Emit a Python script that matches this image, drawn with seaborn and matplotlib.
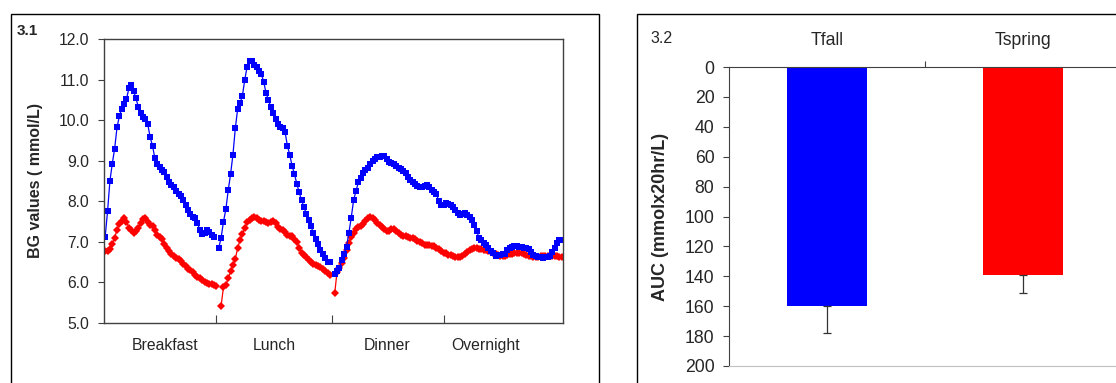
import matplotlib
matplotlib.use('Agg')
import matplotlib.pyplot as plt
from matplotlib.patches import Rectangle
from matplotlib.ticker import FormatStrFormatter
import numpy as np
import pandas as pd
import seaborn as sns

# ---------------------------------------------------------------------------
# Data
# ---------------------------------------------------------------------------

# 3.1 - mean BG profiles, one value per 5-min slot; three meal segments
tfall_breakfast = [7.13, 7.75, 8.5, 8.93, 9.3, 9.82, 10.1, 10.28, 10.4, 10.52,
                   10.78, 10.87, 10.72, 10.54, 10.33, 10.17, 10.08, 10.03, 9.9, 9.58,
                   9.37, 9.06, 8.92, 8.84, 8.78, 8.71, 8.61, 8.48, 8.41, 8.34,
                   8.26, 8.19, 8.12, 8.04, 7.92, 7.78, 7.69, 7.62, 7.58, 7.46,
                   7.3, 7.19, 7.23, 7.28, 7.24, 7.16, 7.13]
tfall_lunch = [6.85, 7.1, 7.5, 7.8, 8.27, 8.67, 9.15, 9.8, 10.28, 10.42,
               10.6, 11.0, 11.32, 11.47, 11.46, 11.36, 11.3, 11.22, 11.13, 10.95,
               10.66, 10.5, 10.32, 10.18, 10.02, 9.9, 9.82, 9.8, 9.72, 9.37,
               9.15, 8.87, 8.67, 8.43, 8.22, 8.03, 7.86, 7.69, 7.53, 7.38,
               7.22, 7.07, 6.95, 6.81, 6.7, 6.59, 6.51, 6.51]
tfall_dinner = [6.22, 6.27, 6.36, 6.55, 6.7, 6.88, 7.22, 7.6, 8.03, 8.25,
                8.47, 8.58, 8.7, 8.78, 8.82, 8.92, 9.0, 9.05, 9.08, 9.1,
                9.12, 9.11, 9.05, 8.98, 8.95, 8.93, 8.88, 8.83, 8.79, 8.75,
                8.7, 8.6, 8.52, 8.47, 8.42, 8.37, 8.36, 8.35, 8.38, 8.4,
                8.34, 8.29, 8.23, 8.18, 8.0, 7.9, 7.92, 7.95, 7.94, 7.92,
                7.85, 7.78, 7.72, 7.66, 7.68, 7.7, 7.65, 7.61, 7.53, 7.42,
                7.27, 7.1, 7.05, 6.98, 6.93, 6.84, 6.78, 6.72, 6.66, 6.67,
                6.68, 6.69, 6.71, 6.8, 6.84, 6.88, 6.9, 6.89, 6.88, 6.87,
                6.86, 6.86, 6.82, 6.75, 6.68, 6.64, 6.62, 6.62, 6.61, 6.62,
                6.62, 6.65, 6.75, 6.86, 6.97, 7.04, 7.05]

tspring_breakfast = [6.78, 6.77, 6.83, 6.95, 7.1, 7.3, 7.44, 7.52, 7.58, 7.5,
                     7.35, 7.28, 7.23, 7.26, 7.33, 7.46, 7.57, 7.6, 7.49, 7.41,
                     7.38, 7.29, 7.16, 7.13, 7.06, 6.95, 6.86, 6.77, 6.69, 6.64,
                     6.61, 6.58, 6.53, 6.46, 6.4, 6.34, 6.3, 6.25, 6.19, 6.13,
                     6.1, 6.06, 6.02, 5.98, 5.96, 5.95, 5.93, 5.91]
tspring_lunch = [5.43, 5.88, 5.93, 6.1, 6.27, 6.43, 6.58, 6.85, 7.04, 7.2,
                 7.34, 7.48, 7.55, 7.6, 7.62, 7.58, 7.54, 7.52, 7.51, 7.49,
                 7.47, 7.5, 7.52, 7.46, 7.36, 7.31, 7.29, 7.24, 7.18, 7.14,
                 7.14, 7.08, 7.0, 6.84, 6.73, 6.68, 6.62, 6.55, 6.5, 6.46,
                 6.43, 6.41, 6.37, 6.32, 6.29, 6.24, 6.18]
tspring_dinner = [5.73, 6.26, 6.36, 6.47, 6.6, 6.8, 6.98, 7.13, 7.23, 7.31,
                  7.36, 7.38, 7.44, 7.52, 7.58, 7.61, 7.6, 7.53, 7.47, 7.42,
                  7.36, 7.31, 7.27, 7.27, 7.31, 7.32, 7.27, 7.22, 7.17, 7.14,
                  7.14, 7.13, 7.1, 7.09, 7.06, 7.01, 6.99, 6.96, 6.93, 6.92,
                  6.92, 6.91, 6.89, 6.86, 6.82, 6.77, 6.73, 6.72, 6.68, 6.67,
                  6.64, 6.63, 6.63, 6.63, 6.65, 6.7, 6.75, 6.8, 6.83, 6.84,
                  6.84, 6.83, 6.82, 6.81, 6.8, 6.78, 6.76, 6.72, 6.7, 6.67,
                  6.65, 6.65, 6.66, 6.68, 6.7, 6.71, 6.72, 6.72, 6.72, 6.72,
                  6.69, 6.67, 6.65, 6.64, 6.63, 6.63, 6.63, 6.64, 6.65, 6.65,
                  6.65, 6.65, 6.64, 6.64, 6.64, 6.63, 6.63]

# first 5-min slot of each segment
tfall_starts   = [0, 48, 97]
tspring_starts = [0, 49, 97]

meal_labels = ['Breakfast', 'Lunch', 'Dinner', 'Overnight']

# 3.2 - AUC
groups  = ['Tfall', 'Tspring']
auc     = [160, 139]
auc_err = [18, 12]

# ---------------------------------------------------------------------------
# Layout
# ---------------------------------------------------------------------------

W, H = 1116, 383
BLUE, RED = '#0000FF', '#FF0000'
AXCOL = '#404040'

sns.set_style('white')
plt.rcParams['font.family'] = ['Liberation Sans', 'DejaVu Sans']

fig = plt.figure(figsize=(W / 100, H / 100), dpi=100)
ax1 = fig.add_axes([104 / W, 1 - 323 / H, 459 / W, 284 / H])
ax2 = fig.add_axes([729 / W, 1 - 366 / H, 392 / W, 299 / H])

# outer panel frames
fig.patches.append(Rectangle((11 / W, -0.1), 588 / W, 1.1 - 14 / H,
                             transform=fig.transFigure, fill=False,
                             edgecolor='black', lw=1))
fig.patches.append(Rectangle((637 / W, -0.1), 0.5, 1.1 - 14 / H,
                             transform=fig.transFigure, fill=False,
                             edgecolor='black', lw=1))

# ---------------------------------------------------------------------------
# 3.1 BG profiles
# ---------------------------------------------------------------------------

series = [
    # period, segments, starts, colour, marker, marker size (red drawn first)
    ('Tspring', [tspring_breakfast, tspring_lunch, tspring_dinner], tspring_starts, RED, 'D', 4.1),
    ('Tfall',   [tfall_breakfast, tfall_lunch, tfall_dinner],       tfall_starts,   BLUE, 's', 5.0),
]

for period, segs, starts, color, marker, ms in series:
    df = pd.concat([pd.DataFrame({'slot': start + np.arange(len(vals)),
                                  'bg': vals, 'seg': k})
                    for k, (vals, start) in enumerate(zip(segs, starts))],
                   ignore_index=True)
    sns.lineplot(data=df, x='slot', y='bg', units='seg', estimator=None, sort=False,
                 color=color, marker=marker, markersize=ms, markeredgewidth=0,
                 linewidth=0.9, ax=ax1)

ax1.set_xlim(-0.5, 193.5)
ax1.set_ylim(5, 12)
ax1.set_yticks(np.arange(5, 12.01, 1))
ax1.yaxis.set_major_formatter(FormatStrFormatter('%.1f'))
ax1.set_xticks([46.8, 95.9, 143.2])
ax1.set_xticklabels([])
ax1.set_xticks([25.5, 71.3, 119.3, 160.9], minor=True)
ax1.set_xticklabels(meal_labels, minor=True)
ax1.tick_params(axis='x', which='major', bottom=True, direction='in', length=6,
                width=0.8, color=AXCOL)
ax1.tick_params(axis='x', which='minor', bottom=True, length=0, pad=11, labelsize=11.3)
ax1.tick_params(axis='y', direction='out', left=True, length=4, width=0.8,
                color=AXCOL, pad=6.5, labelsize=11.3)
for sp in ax1.spines.values():
    sp.set_color(AXCOL)
    sp.set_linewidth(1)
ax1.set_xlabel('')
ax1.set_ylabel('BG values ( mmol/L)', fontweight='bold', fontsize=11.5)
ax1.yaxis.set_label_coords(-0.133, 0.5)

# ---------------------------------------------------------------------------
# 3.2 AUC bars
# ---------------------------------------------------------------------------

sns.barplot(x=groups, y=auc, hue=groups, palette=[BLUE, RED], saturation=1,
            width=0.41, linewidth=0, errorbar=None, legend=False, ax=ax2)
ax2.errorbar(x=[0, 1], y=auc, yerr=[np.zeros(len(auc)), auc_err], fmt='none',
             ecolor='#333333', elinewidth=0.9, capsize=2.6, capthick=0.9)

ax2.set_ylim(200, 0)
ax2.set_xlim(-0.5, 1.5)
ax2.set_yticks(np.arange(0, 201, 20))
ax2.xaxis.tick_top()
ax2.set_xticks([0.5])
ax2.set_xticklabels([''])
ax2.set_xticks([0, 1], minor=True)
ax2.set_xticklabels(groups, minor=True)
ax2.tick_params(axis='x', which='both', top=True, bottom=False,
                labeltop=True, labelbottom=False)
ax2.tick_params(axis='x', which='major', direction='out', length=4, width=0.8, color=AXCOL)
ax2.tick_params(axis='x', which='minor', length=0, pad=13, labelsize=12.7)
ax2.tick_params(axis='y', direction='out', left=True, length=4.5, width=0.8,
                color=AXCOL, pad=6, labelsize=12.7)
ax2.spines['top'].set_color(AXCOL)
ax2.spines['left'].set_color(AXCOL)
ax2.spines['bottom'].set_color('#c0c0c0')
ax2.spines['right'].set_visible(False)
ax2.set_xlabel('')
ax2.set_ylabel('AUC (mmolx20hr/L)', fontweight='bold', fontsize=13)
ax2.yaxis.set_label_coords(-0.153, 0.5)

fig.text(17 / W, 1 - 30.7 / H, '3.1', fontweight='bold', fontsize=11, va='center', ha='left')
fig.text(650 / W, 1 - 38.7 / H, '3.2', fontsize=11.5, va='center', ha='left')

fig.savefig('out.png', dpi=100)
